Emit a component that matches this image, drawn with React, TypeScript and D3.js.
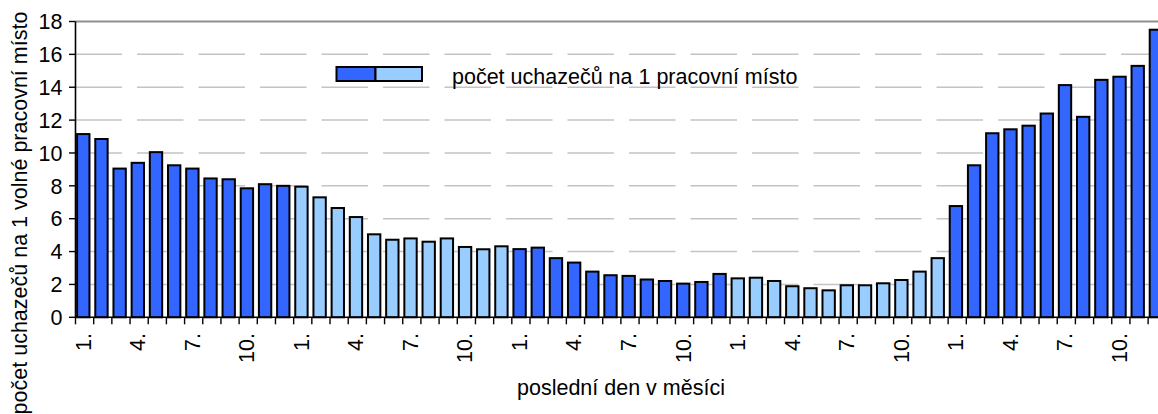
import React, { useEffect, useRef } from "react";
import * as d3 from "d3";

// monthly values, one array per year (alternating colours)
const year1 = [11.15, 10.85, 9.05, 9.4, 10.05, 9.25, 9.05, 8.45, 8.4, 7.85, 8.1, 8.0];
const year2 = [7.95, 7.3, 6.65, 6.1, 5.05, 4.72, 4.8, 4.6, 4.8, 4.28, 4.14, 4.32];
const year3 = [4.15, 4.24, 3.6, 3.33, 2.78, 2.56, 2.52, 2.3, 2.21, 2.05, 2.15, 2.64];
const year4 = [2.37, 2.41, 2.21, 1.89, 1.77, 1.64, 1.95, 1.95, 2.07, 2.27, 2.78, 3.6];
const year5 = [6.77, 9.25, 11.2, 11.44, 11.66, 12.4, 14.13, 12.2, 14.45, 14.64, 15.3, 17.5];
const years = [year1, year2, year3, year4, year5];

const monthLabels = ["1.", "", "", "4.", "", "", "7.", "", "", "10.", "", ""];
const yTicks = [0, 2, 4, 6, 8, 10, 12, 14, 16, 18];

const darkBlue = "#3366FF";
const lightBlue = "#99CCFF";
const font = "'Liberation Sans', Arial, sans-serif";

export default function App() {
  const ref = useRef<SVGSVGElement>(null);

  useEffect(() => {
    const width = 1158;
    const height = 414;
    const margin = { top: 21.5, left: 75.5, bottom: 317.3 };
    const plotRight = margin.left + 60 * 18.18;

    const data = years.flatMap((vals, yi) =>
      vals.map((v, mi) => ({ key: yi * 12 + mi, year: yi, month: mi, value: v }))
    );

    const svg = d3.select(ref.current);
    svg.selectAll("*").remove();
    svg.attr("width", width).attr("height", height);

    const x = d3.scaleBand<number>()
      .domain(data.map(d => d.key))
      .range([margin.left, plotRight])
      .paddingInner(0)
      .paddingOuter(0);

    const y = d3.scaleLinear().domain([0, 18]).range([margin.bottom, margin.top]);

    // grid
    svg.append("g")
      .selectAll("line")
      .data(yTicks.filter(t => t > 0 && t < 18))
      .join("line")
      .attr("x1", margin.left)
      .attr("x2", plotRight)
      .attr("y1", d => y(d))
      .attr("y2", d => y(d))
      .attr("stroke", "#c4c4c4")
      .attr("stroke-width", 1.5)
      .attr("stroke-dasharray", "46.5 15");

    svg.append("line")
      .attr("x1", margin.left)
      .attr("x2", plotRight)
      .attr("y1", y(18))
      .attr("y2", y(18))
      .attr("stroke", "#8f8f8f")
      .attr("stroke-width", 2);

    // bars
    const bw = x.bandwidth();
    svg.append("g")
      .selectAll("rect")
      .data(data)
      .join("rect")
      .attr("x", d => (x(d.key) as number) + 1.6)
      .attr("width", bw * 0.68)
      .attr("y", d => y(d.value))
      .attr("height", d => y(0) - y(d.value))
      .attr("fill", d => (d.year % 2 === 0 ? darkBlue : lightBlue))
      .attr("stroke", "#000")
      .attr("stroke-width", 2);

    // axes
    svg.append("line")
      .attr("x1", margin.left).attr("x2", margin.left)
      .attr("y1", y(18)).attr("y2", y(0))
      .attr("stroke", "#000").attr("stroke-width", 1.6);
    svg.append("line")
      .attr("x1", margin.left).attr("x2", plotRight)
      .attr("y1", y(0)).attr("y2", y(0))
      .attr("stroke", "#000").attr("stroke-width", 1.6);

    // y ticks
    const yg = svg.append("g");
    yg.selectAll("line")
      .data(yTicks)
      .join("line")
      .attr("x1", margin.left - 6.5).attr("x2", margin.left)
      .attr("y1", d => y(d)).attr("y2", d => y(d))
      .attr("stroke", "#000").attr("stroke-width", 1.4);
    yg.selectAll("text")
      .data(yTicks)
      .join("text")
      .attr("x", 62.5)
      .attr("y", d => y(d))
      .attr("dy", "0.36em")
      .attr("text-anchor", "end")
      .attr("font-family", font)
      .attr("font-size", 21.5)
      .text(d => d);

    // x ticks
    const xg = svg.append("g");
    xg.selectAll("line")
      .data(data)
      .join("line")
      .attr("x1", d => x(d.key) as number).attr("x2", d => x(d.key) as number)
      .attr("y1", y(0)).attr("y2", y(0) + 7)
      .attr("stroke", "#000").attr("stroke-width", 1.4);
    xg.selectAll("text")
      .data(data.filter(d => monthLabels[d.month] !== ""))
      .join("text")
      .attr("transform", d => `translate(${(x(d.key) as number) + bw / 2 - 1.5},333) rotate(-90)`)
      .attr("dy", "0.35em")
      .attr("text-anchor", "end")
      .attr("font-family", font)
      .attr("font-size", 21.5)
      .text(d => monthLabels[d.month]);

    // axis titles
    svg.append("text")
      .attr("x", 621)
      .attr("y", 395)
      .attr("text-anchor", "middle")
      .attr("font-family", font)
      .attr("font-size", 21.5)
      .text("poslední den v měsíci");

    svg.append("text")
      .attr("transform", "translate(27,213) rotate(-90)")
      .attr("text-anchor", "middle")
      .attr("font-family", font)
      .attr("font-size", 21.5)
      .text("počet uchazečů na 1 volné pracovní místo");

    // legend
    const lg = svg.append("g");
    lg.append("rect")
      .attr("x", 336.5).attr("y", 67)
      .attr("width", 39).attr("height", 14)
      .attr("fill", darkBlue).attr("stroke", "#000").attr("stroke-width", 2);
    lg.append("rect")
      .attr("x", 375.5).attr("y", 67)
      .attr("width", 46.5).attr("height", 14)
      .attr("fill", lightBlue).attr("stroke", "#000").attr("stroke-width", 2);
    lg.append("text")
      .attr("x", 452)
      .attr("y", 83.5)
      .attr("font-family", font)
      .attr("font-size", 21.5)
      .text("počet uchazečů na 1 pracovní místo");
  }, []);

  return (
    <svg
      ref={ref}
      style={{ position: "absolute", left: 0, top: 0, display: "block", background: "#fff" }}
    />
  );
}
